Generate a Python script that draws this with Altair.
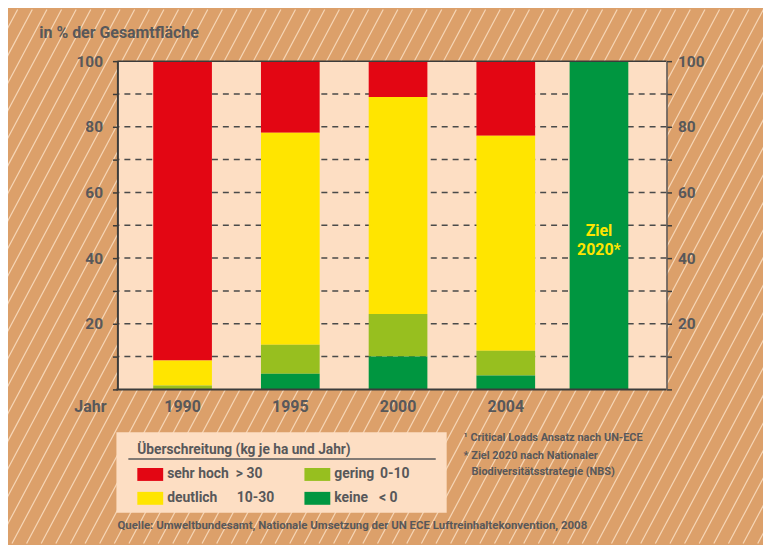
import altair as alt
import pandas as pd

# ---------------- data ----------------
years = ["1990", "1995", "2000", "2004", "Ziel 2020*"]
categories = ["sehr hoch", "deutlich", "gering", "keine"]
ranges = ["> 30", "10-30", "0-10", "< 0"]
colors = ["#e30613", "#ffe500", "#97bf1f", "#009640"]
sehr_hoch = [91.2, 21.8, 10.9, 22.7, 0.0]
deutlich = [7.6, 64.6, 66.1, 65.5, 0.0]
gering = [1.2, 8.8, 13.0, 7.6, 0.0]
keine = [0.0, 4.8, 10.0, 4.2, 100.0]
y_ticks = list(range(0, 101, 10))
grid_values = list(range(10, 100, 10))

y_title = "in % der Gesamtfläche"
x_title = "Jahr"
legend_title = "Überschreitung (kg je ha und Jahr)"
note1 = "¹ Critical Loads Ansatz nach UN-ECE"
note2a = "* Ziel 2020 nach Nationaler"
note2b = "Biodiversitätsstrategie (NBS)"
source = "Quelle: Umweltbundesamt, Nationale Umsetzung der UN ECE Luftreinhaltekonvention, 2008"

# ---------------- layout / style ----------------
W, H = 552, 330
PAD = {"left": 110, "top": 52, "right": 97, "bottom": 155}
slots = [0, 1, 2, 3, 3.865]
XDOM = [-0.6048, 4.492]
ORANGE = "#dca06a"
PEACH = "#fddec3"
STRIPE = "#f6d6b7"
GRAY = "#58585a"
DARK = "#3c3c3b"
FONT = "Roboto, Liberation Sans, sans-serif"

xscale = alt.Scale(domain=XDOM, nice=False, zero=False, padding=0)
yscale = alt.Scale(domain=[0, 100], nice=False, padding=0)

series = [sehr_hoch, deutlich, gering, keine]
rows = []
for i, y in enumerate(years):
    for ci, c in enumerate(categories):
        rows.append({"jahr": y, "slot": slots[i], "kat": c,
                     "wert": series[ci][i], "ord": len(categories) - 1 - ci})
df = pd.DataFrame(rows)

ylab = "datum.value % 20 === 0 && datum.value > 0 ? datum.label : ''"
left_axis = alt.Axis(values=y_ticks, labelExpr=ylab, tickSize=5, tickWidth=1.5,
                     tickColor=DARK, domainColor=DARK, domainWidth=2,
                     labelFontSize=15.5, labelPadding=10, labelColor=GRAY,
                     labelFont=FONT, labelFontWeight="bold", grid=False, zindex=1,
                     title=y_title, titleAngle=0, titleX=-79, titleY=-29,
                     titleAlign="left", titleBaseline="middle", titleFontSize=16,
                     titleColor=GRAY, titleFont=FONT, titleFontWeight="bold")
right_axis = alt.Axis(orient="right", values=y_ticks, labelExpr=ylab, tickSize=5,
                      tickWidth=1.5, tickColor=DARK, domainColor=GRAY,
                      domainWidth=1.5, labelFontSize=15.5, labelPadding=6,
                      labelColor=GRAY, labelFont=FONT, labelFontWeight="bold",
                      grid=False, zindex=1, title=None)

one = pd.DataFrame({"a": [0]})

# background stripes (decoration)
stripes = alt.Chart(alt.sequence(0, 76, as_="i")).transform_calculate(
    x1="-110 - 290 + datum.i * 14.7", x2="datum.x1 + 285", y1="485", y2="-52"
).mark_rule(color=STRIPE, strokeWidth=1.2).encode(
    x=alt.X("x1:Q", scale=None, axis=None), x2="x2:Q",
    y=alt.Y("y1:Q", scale=None, axis=None), y2="y2:Q")

plot_bg = alt.Chart(one).mark_rect(color=PEACH).encode(
    x=alt.value(0), x2=alt.value(W), y=alt.value(0), y2=alt.value(H))

grid = alt.Chart(pd.DataFrame({"v": grid_values})).mark_rule(
    color="#4a4a4a", strokeWidth=1.5, strokeDash=[6, 5]).encode(
    y=alt.Y("v:Q", scale=yscale, axis=right_axis))

bars = alt.Chart(df).mark_bar(size=59).encode(
    x=alt.X("slot:Q", scale=xscale, axis=None),
    y=alt.Y("wert:Q", stack="zero", scale=yscale, axis=left_axis),
    color=alt.Color("kat:N", scale=alt.Scale(domain=categories, range=colors), legend=None),
    order=alt.Order("ord:Q"))

# x axis labels (years) placed by the x scale
year_df = pd.DataFrame({"slot": slots[:4], "jahr": years[:4]})
year_labels = alt.Chart(year_df).mark_text(
    font=FONT, fontWeight="bold", fontSize=16, color=GRAY, align="center",
    baseline="middle").encode(
    x=alt.X("slot:Q", scale=xscale, axis=None), y=alt.value(H + 18), text="jahr:N")
jahr_label = alt.Chart(one).mark_text(
    text=x_title, font=FONT, fontWeight="bold", fontSize=16, color=GRAY,
    align="right", baseline="middle").encode(x=alt.value(-11), y=alt.value(H + 18))
bottom_line = alt.Chart(one).mark_rule(color=DARK, strokeWidth=2).encode(
    x=alt.value(-1), x2=alt.value(W), y=alt.value(H))

ziel_df = pd.DataFrame({"slot": [slots[-1]], "ty": [48.2],
                        "t": [years[-1].replace(" ", "\n")]})
ziel_text = alt.Chart(ziel_df).mark_text(
    color="#ffe500", font=FONT, fontWeight="bold", fontSize=16, lineBreak="\n",
    lineHeight=19, baseline="middle", align="center").encode(
    x=alt.X("slot:Q", scale=xscale, axis=None),
    y=alt.Y("ty:Q", scale=yscale, axis=None), text="t:N")

top_border = alt.Chart(one).mark_rule(color=DARK, strokeWidth=1.5).encode(
    x=alt.value(0), x2=alt.value(W), y=alt.value(0))

# custom legend box
leg_bg = alt.Chart(one).mark_rect(color=PEACH).encode(
    x=alt.value(-1), x2=alt.value(331), y=alt.value(373), y2=alt.value(454))
leg_line = alt.Chart(one).mark_rule(color=GRAY, strokeWidth=1.5).encode(
    x=alt.value(11), x2=alt.value(320), y=alt.value(400))
leg_title = alt.Chart(one).mark_text(
    text=legend_title, font=FONT, fontWeight="bold", fontSize=13.8, color=GRAY,
    align="left", baseline="middle").encode(x=alt.value(20), y=alt.value(391))

leg_df = pd.DataFrame({
    "kat": categories, "rng": ranges,
    "sx": [20 + 168 * (i // 2) for i in range(4)],
    "sy": [409 + 24 * (i % 2) for i in range(4)],
})
leg_df["sx2"] = leg_df["sx"] + 26
leg_df["sy2"] = leg_df["sy"] + 13
leg_df["tx"] = leg_df["sx"] + 30
leg_df["ty"] = leg_df["sy"] + 6.5
leg_df["rx"] = [119, 120, 264, 263]

leg_sw = alt.Chart(leg_df).mark_rect().encode(
    x=alt.X("sx:Q", scale=None, axis=None), x2="sx2:Q",
    y=alt.Y("sy:Q", scale=None, axis=None), y2="sy2:Q",
    color=alt.Color("kat:N", scale=alt.Scale(domain=categories, range=colors), legend=None))
leg_names = alt.Chart(leg_df).mark_text(
    font=FONT, fontWeight="bold", fontSize=14, color=GRAY, align="left",
    baseline="middle").encode(
    x=alt.X("tx:Q", scale=None, axis=None), y=alt.Y("ty:Q", scale=None, axis=None),
    text="kat:N")
leg_rng = alt.Chart(leg_df).mark_text(
    font=FONT, fontWeight="bold", fontSize=14, color=GRAY, align="left",
    baseline="middle").encode(
    x=alt.X("rx:Q", scale=None, axis=None), y=alt.Y("ty:Q", scale=None, axis=None),
    text="rng:N")


def note(txt, x, y, size=11):
    return alt.Chart(one).mark_text(
        text=txt, font=FONT, fontWeight="bold", fontSize=size, color=GRAY,
        align="left", baseline="middle").encode(x=alt.value(x), y=alt.value(y))


notes = [note(note1, 348, 379), note(note2a, 348, 397), note(note2b, 356, 413),
         note(source, 0, 467, 11.5)]

chart = alt.layer(
    stripes, plot_bg, grid, bars, ziel_text, top_border, bottom_line,
    year_labels, jahr_label,
    leg_bg, leg_line, leg_title, leg_sw, leg_names, leg_rng, *notes
).resolve_axis(y="independent").properties(
    width=W, height=H, padding=PAD,
    autosize=alt.AutoSizeParams(type="none"), background=ORANGE
).configure_view(strokeWidth=0)

chart.save("out.html", embed_options={"renderer": "svg", "actions": False})
